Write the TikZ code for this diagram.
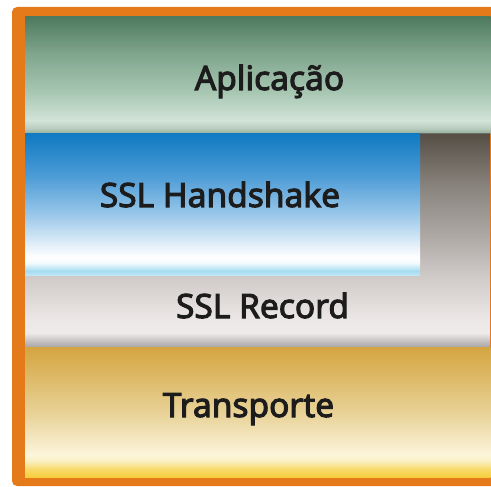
\documentclass[tikz,border=0pt]{standalone}
\usepackage{fontspec}
\setmainfont{Noto Sans}[BoldFont={Noto Sans}, BoldFeatures={FakeBold=3}]
\definecolor{frameor}{HTML}{E57A1A}
\definecolor{txt}{HTML}{1C1C1C}
% Aplicacao
\definecolor{apA}{HTML}{93AC9B}\definecolor{apB}{HTML}{B8CCBE}\definecolor{apC}{HTML}{D2E4D8}
\definecolor{apD}{HTML}{A9C8B4}\definecolor{apE}{HTML}{7FA58C}\definecolor{apF}{HTML}{4E7A60}
% Handshake
\definecolor{hsA}{HTML}{BEE6F4}\definecolor{hsB}{HTML}{A4DCF0}\definecolor{hsC}{HTML}{F2FAFD}
\definecolor{hsD}{HTML}{FFFFFF}\definecolor{hsE}{HTML}{9CC8EA}\definecolor{hsF}{HTML}{4B9BD6}\definecolor{hsG}{HTML}{0F7AC2}
% Record (gray)
\definecolor{grA}{HTML}{A9A5A4}\definecolor{grB}{HTML}{C6C2C1}\definecolor{grC}{HTML}{EEEAE9}
\definecolor{grD}{HTML}{EDE9E8}\definecolor{grE}{HTML}{D0CBC9}\definecolor{grF}{HTML}{AEA9A5}
\definecolor{grG}{HTML}{8A847E}\definecolor{grH}{HTML}{564E45}
% Transporte
\definecolor{trA}{HTML}{F6CF3C}\definecolor{trB}{HTML}{F8DA6A}\definecolor{trC}{HTML}{FBEFC0}
\definecolor{trD}{HTML}{FCF5DC}\definecolor{trE}{HTML}{EAD59D}\definecolor{trF}{HTML}{DDB967}\definecolor{trG}{HTML}{D4A540}
\pgfdeclareverticalshading{appshade}{100bp}{color(0bp)=(apA); color(25bp)=(apA); color(27.16bp)=(apB); color(30.6bp)=(apC); color(42.24bp)=(apD); color(59.48bp)=(apE); color(75bp)=(apF); color(100bp)=(apF)}
\pgfdeclareverticalshading{hsshade}{100bp}{color(0bp)=(hsA); color(25bp)=(hsA); color(26.41bp)=(hsB); color(29.23bp)=(hsC); color(31.34bp)=(hsD); color(46.13bp)=(hsE); color(60.21bp)=(hsF); color(75bp)=(hsG); color(100bp)=(hsG)}
\pgfdeclareverticalshading{grshade}{100bp}{color(0bp)=(grA); color(25bp)=(grA); color(26.41bp)=(grB); color(28.29bp)=(grC); color(30.87bp)=(grD); color(41.43bp)=(grE); color(50.82bp)=(grF); color(62.56bp)=(grG); color(75bp)=(grH); color(100bp)=(grH)}
\pgfdeclareverticalshading{trshade}{100bp}{color(0bp)=(trA); color(25bp)=(trA); color(28.08bp)=(trB); color(31.15bp)=(trC); color(33.46bp)=(trD); color(48.08bp)=(trE); color(63.46bp)=(trF); color(75bp)=(trG); color(100bp)=(trG)}
\tikzset{
  layerlabel/.style={anchor=base, inner sep=0pt, text=txt, font=\fontsize{33.5}{36}\selectfont\bfseries}
}
\begin{document}
\begin{tikzpicture}[x=1pt,y=-1pt]
\useasboundingbox (0,0) rectangle (491,487);
\begin{scope}
\clip (0,0) rectangle (491,487);
% orange frame
\fill[frameor, rounded corners=5pt] (12,7) rectangle (505,486);
% layers
\shade[shading=appshade] (25,17) rectangle (490.5,133.5);
\shade[shading=grshade] (25,347) -- (25,275) -- (420,275) -- (420,133.5) -- (490.5,133.5) -- (490.5,347) -- cycle;
\shade[shading=hsshade] (25,133.5) rectangle (420,275);
\shade[shading=trshade] (25,347) rectangle (490.5,477);
\end{scope}
% labels
\node[layerlabel] (app) at (269.5,90) {Aplicação};
\node[layerlabel] (hs) at (220,207) {SSL Handshake};
\node[layerlabel] (rec) at (262.5,318) {SSL Record};
\node[layerlabel] (tr) at (248.5,417) {Transporte};
\end{tikzpicture}
\end{document}
